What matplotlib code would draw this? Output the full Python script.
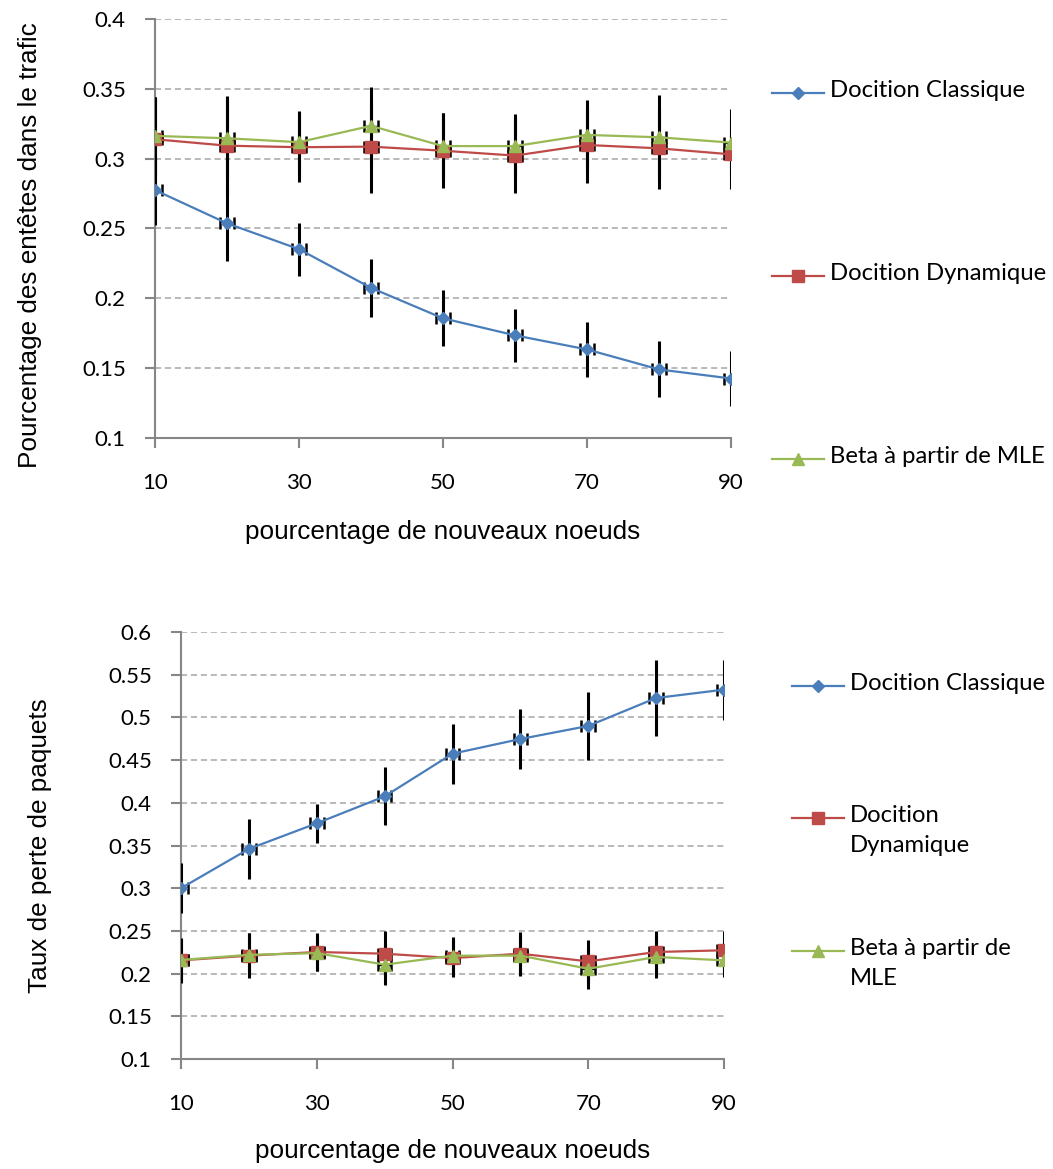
import matplotlib
matplotlib.use('Agg')
import matplotlib.pyplot as plt
from matplotlib.lines import Line2D

# donnees
x = [10, 20, 30, 40, 50, 60, 70, 80, 90]
labels = ['Docition Classique', 'Docition Dynamique', 'Beta à partir de MLE']
labels_bas = ['Docition Classique', 'Docition\nDynamique', 'Beta à partir de\nMLE']

# graphe du haut : pourcentage des entetes
haut_classique = [0.2775, 0.2537, 0.2352, 0.2075, 0.1857, 0.1735, 0.1634, 0.1491, 0.1426]
haut_dynamique = [0.3139, 0.3093, 0.3082, 0.3086, 0.3057, 0.3022, 0.3098, 0.3074, 0.3031]
haut_beta = [0.3163, 0.3146, 0.3118, 0.3235, 0.3090, 0.3090, 0.3170, 0.3153, 0.3115]
err_haut_classique = [0.025, 0.027, 0.019, 0.021, 0.020, 0.019, 0.020, 0.020, 0.020]
err_haut_dynamique = [0.030, 0.035, 0.025, 0.033, 0.027, 0.027, 0.027, 0.029, 0.025]
err_haut_beta = [0.028, 0.030, 0.022, 0.028, 0.024, 0.023, 0.025, 0.030, 0.024]

# graphe du bas : taux de perte de paquets
bas_classique = [0.300, 0.346, 0.376, 0.4075, 0.4575, 0.4747, 0.490, 0.5227, 0.5325]
bas_dynamique = [0.2155, 0.221, 0.2253, 0.2233, 0.2182, 0.2233, 0.2143, 0.2253, 0.2273]
bas_beta = [0.216, 0.222, 0.224, 0.2105, 0.221, 0.221, 0.2057, 0.2195, 0.2155]
err_bas_classique = [0.029, 0.035, 0.023, 0.034, 0.035, 0.035, 0.040, 0.044, 0.035]
err_bas_dynamique = [0.026, 0.026, 0.022, 0.026, 0.022, 0.025, 0.025, 0.025, 0.022]
err_bas_beta = [0.025, 0.025, 0.021, 0.024, 0.022, 0.024, 0.024, 0.025, 0.020]

couleurs = ['#4A7EBB', '#BE4B48', '#98B954']
marqueurs = ['D', 's', '^']
tailles = [6, 8, 8]

W, H = 1053, 1169
fig = plt.figure(figsize=(W / 100, H / 100), dpi=100)

police_num = 'Lato'
police_titre = 'Liberation Sans'


def dessine(ax, series, erreurs, ylim, yticks):
    for ys, es, c, m, s in zip(series, erreurs, couleurs, marqueurs, tailles):
        ax.errorbar(x, ys, yerr=es, fmt='none', ecolor='black', elinewidth=2.2,
                    capsize=0, zorder=3)
        ax.errorbar(x, ys, xerr=1, fmt='none', ecolor='black', elinewidth=1,
                    capsize=4, capthick=1.8, zorder=3)
        ax.plot(x, ys, color=c, lw=1.6, marker=m, ms=s, zorder=4)
    ax.set_xlim(10, 90)
    ax.set_ylim(*ylim)
    ax.set_xticks([10, 30, 50, 70, 90])
    ax.set_yticks(yticks)
    ax.set_yticklabels([('%g' % t) for t in yticks])
    ax.grid(axis='y', color='#A6A6A6', ls=(0, (4, 2.5)), lw=1.1)
    ax.set_axisbelow(True)
    for s in ['top', 'right']:
        ax.spines[s].set_visible(False)
    for s in ['left', 'bottom']:
        ax.spines[s].set_color('#868686')
        ax.spines[s].set_linewidth(1.5)
    ax.tick_params(direction='out', length=7, width=1.5, color='#868686',
                   labelsize=16, pad=14)
    ax.tick_params(axis='x', pad=18)
    for t in ax.get_xticklabels() + ax.get_yticklabels():
        t.set_family(police_num)


def legende(entrees, px_ligne, py_list):
    for lab, c, m, s, py in zip(entrees, couleurs, marqueurs, tailles, py_list):
        fy = 1 - py / H
        fig.add_artist(Line2D([px_ligne / W, (px_ligne + 52) / W], [fy, fy],
                              color=c, lw=1.6, transform=fig.transFigure))
        fig.add_artist(Line2D([(px_ligne + 26) / W], [fy], color=c, marker=m,
                              ms=s, transform=fig.transFigure))
        fig.text((px_ligne + 58) / W, 1 - (py - 13) / H, lab, fontsize=17.2,
                 family=police_num, va='top', linespacing=1.55)


ax1 = fig.add_axes([155 / W, 1 - 438 / H, (731 - 155) / W, (438 - 19) / H])
dessine(ax1, [haut_classique, haut_dynamique, haut_beta],
        [err_haut_classique, err_haut_dynamique, err_haut_beta],
        (0.1, 0.4), [0.1, 0.15, 0.2, 0.25, 0.3, 0.35, 0.4])
ax1.set_xlabel('pourcentage de nouveaux noeuds', fontsize=18.8,
               family=police_titre, labelpad=20)
ax1.set_ylabel('Pourcentage des entêtes dans le trafic', fontsize=18.8,
               family=police_titre, labelpad=29)
ax1.yaxis.label.set_y(0.46)
legende(labels, 772, [93, 276, 459])

ax2 = fig.add_axes([181 / W, 1 - 1059 / H, (724 - 181) / W, (1059 - 632) / H])
dessine(ax2, [bas_classique, bas_dynamique, bas_beta],
        [err_bas_classique, err_bas_dynamique, err_bas_beta],
        (0.1, 0.6), [0.1, 0.15, 0.2, 0.25, 0.3, 0.35, 0.4, 0.45, 0.5, 0.55, 0.6])
ax2.set_xlabel('pourcentage de nouveaux noeuds', fontsize=18.8,
               family=police_titre, labelpad=18)
ax2.set_ylabel('Taux de perte de paquets', fontsize=18.8,
               family=police_titre, labelpad=40)
legende(labels_bas, 792, [686, 818, 951])

fig.savefig('out.png', dpi=100)
